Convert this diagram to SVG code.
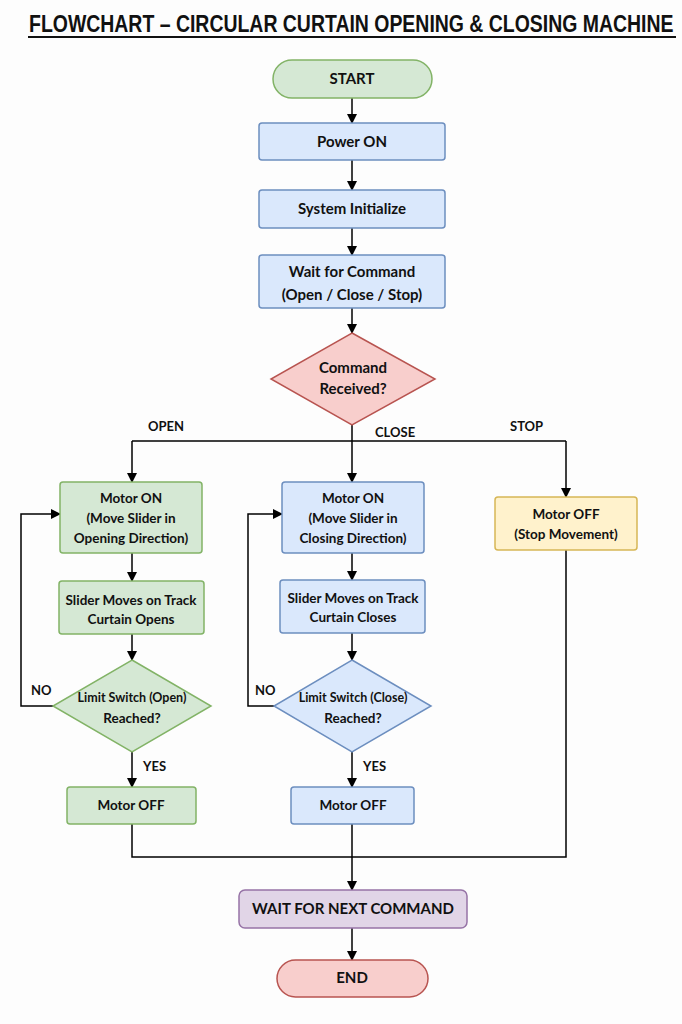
<svg xmlns="http://www.w3.org/2000/svg" width="682" height="1024" viewBox="0 0 682 1024">
<defs>
<marker id="arr" markerWidth="10" markerHeight="10" refX="9" refY="5" orient="auto" markerUnits="userSpaceOnUse">
<path d="M0,0 L10,5 L0,10 Z" fill="#000"/>
</marker>
<style>
.t{font-family:Lato,"Open Sans","Liberation Sans",sans-serif;font-weight:bold;font-size:15px;fill:#111;text-anchor:middle}
.s{font-size:13.5px}
.d{font-size:12.5px}
.lbl{font-family:Lato,"Open Sans","Liberation Sans",sans-serif;font-weight:bold;font-size:13px;fill:#111}
.g{fill:#d5e8d4;stroke:#82b366;stroke-width:1.5}
.b{fill:#dae8fc;stroke:#6c8ebf;stroke-width:1.5}
.y{fill:#fff2cc;stroke:#d6b656;stroke-width:1.5}
.p{fill:#e1d5e7;stroke:#9673a6;stroke-width:1.5}
.r{fill:#f8cecc;stroke:#b85450;stroke-width:1.5}
.c{fill:none;stroke:#000;stroke-width:1.5}
.ca{fill:none;stroke:#000;stroke-width:1.5;marker-end:url(#arr)}
</style>
</defs>
<rect width="682" height="1024" fill="#fdfdfd"/>
<g id="title">
<text transform="translate(29,32) scale(0.82,1)" x="0" y="0" font-family="'Liberation Sans',Arial,sans-serif" font-weight="bold" font-size="23" fill="#111" textLength="786" lengthAdjust="spacingAndGlyphs">FLOWCHART – CIRCULAR CURTAIN OPENING &amp; CLOSING MACHINE</text>
<line x1="28" y1="37" x2="676" y2="37" stroke="#111" stroke-width="1.8"/>
</g>
<g id="connectors">
<path class="ca" d="M352,98 V123"/>
<path class="ca" d="M352,160 V190"/>
<path class="ca" d="M352,228 V255"/>
<path class="ca" d="M352,308 V333"/>
<path class="c" d="M352,425 V441"/>
<path class="c" d="M132,441 H566"/>
<path class="ca" d="M132,441 V482"/>
<path class="ca" d="M352,441 V482"/>
<path class="ca" d="M566,441 V497"/>
<path class="ca" d="M132,553 V581"/>
<path class="ca" d="M352,553 V580"/>
<path class="ca" d="M132,634 V660"/>
<path class="ca" d="M352,633 V660"/>
<path class="ca" d="M53,706 H21 V514 H60"/>
<path class="ca" d="M274,706 H248 V514 H282"/>
<path class="ca" d="M132,752 V787"/>
<path class="ca" d="M352,752 V787"/>
<path class="c" d="M132,824 V857 H566 V550"/>
<path class="ca" d="M352,824 V890"/>
<path class="ca" d="M352,928 V960"/>
<text class="lbl" x="148" y="431">OPEN</text>
<text class="lbl" x="375" y="437">CLOSE</text>
<text class="lbl" x="510" y="431">STOP</text>
<text class="lbl" x="31" y="695">NO</text>
<text class="lbl" x="255" y="695">NO</text>
<text class="lbl" x="143" y="771">YES</text>
<text class="lbl" x="363" y="771">YES</text>
</g>
<g id="start"><rect class="g" x="273" y="60" width="159" height="38" rx="19"/><text class="t" x="352" y="84">START</text></g>
<g id="power"><rect class="b" x="259" y="123" width="186" height="37" rx="3"/><text class="t" x="352" y="147">Power ON</text></g>
<g id="init"><rect class="b" x="259" y="190" width="186" height="38" rx="3"/><text class="t" x="352" y="214">System Initialize</text></g>
<g id="wait"><rect class="b" x="259" y="255" width="186" height="53" rx="3"/><text class="t" x="352" y="277">Wait for Command</text><text class="t" x="352" y="300">(Open / Close / Stop)</text></g>
<g id="cmd"><polygon class="r" points="352,333 435,379 352,425 271,379"/><text class="t" x="353" y="373">Command</text><text class="t" x="353" y="394">Received?</text></g>
<g id="open-on"><rect class="g" x="60" y="482" width="142" height="71" rx="3"/><text class="t s" x="131" y="503">Motor ON</text><text class="t s" x="131" y="523">(Move Slider in</text><text class="t s" x="131" y="543">Opening Direction)</text></g>
<g id="close-on"><rect class="b" x="282" y="482" width="142" height="71" rx="3"/><text class="t s" x="353" y="503">Motor ON</text><text class="t s" x="353" y="523">(Move Slider in</text><text class="t s" x="353" y="543">Closing Direction)</text></g>
<g id="stop-off"><rect class="y" x="495" y="497" width="142" height="53" rx="3"/><text class="t s" x="566" y="519">Motor OFF</text><text class="t s" x="566" y="539">(Stop Movement)</text></g>
<g id="open-slide"><rect class="g" x="59" y="581" width="145" height="53" rx="3"/><text class="t s" x="131" y="605">Slider Moves on Track</text><text class="t s" x="131" y="624">Curtain Opens</text></g>
<g id="close-slide"><rect class="b" x="280" y="580" width="145" height="53" rx="3"/><text class="t s" x="353" y="603">Slider Moves on Track</text><text class="t s" x="353" y="622">Curtain Closes</text></g>
<g id="open-limit"><polygon class="g" points="132,660 211,706 132,752 53,706"/><text class="t d" x="132" y="702">Limit Switch (Open)</text><text class="t s" x="132" y="723">Reached?</text></g>
<g id="close-limit"><polygon class="b" points="352,660 431,706 352,752 274,706"/><text class="t d" x="353" y="702">Limit Switch (Close)</text><text class="t s" x="353" y="723">Reached?</text></g>
<g id="open-off"><rect class="g" x="67" y="787" width="129" height="37" rx="3"/><text class="t s" x="131" y="810">Motor OFF</text></g>
<g id="close-off"><rect class="b" x="291" y="787" width="123" height="37" rx="3"/><text class="t s" x="353" y="810">Motor OFF</text></g>
<g id="next"><rect class="p" x="239" y="890" width="228" height="38" rx="6"/><text class="t" x="353" y="914">WAIT FOR NEXT COMMAND</text></g>
<g id="end"><rect class="r" x="277" y="960" width="151" height="37" rx="18.5"/><text class="t" x="352" y="983">END</text></g>
</svg>
